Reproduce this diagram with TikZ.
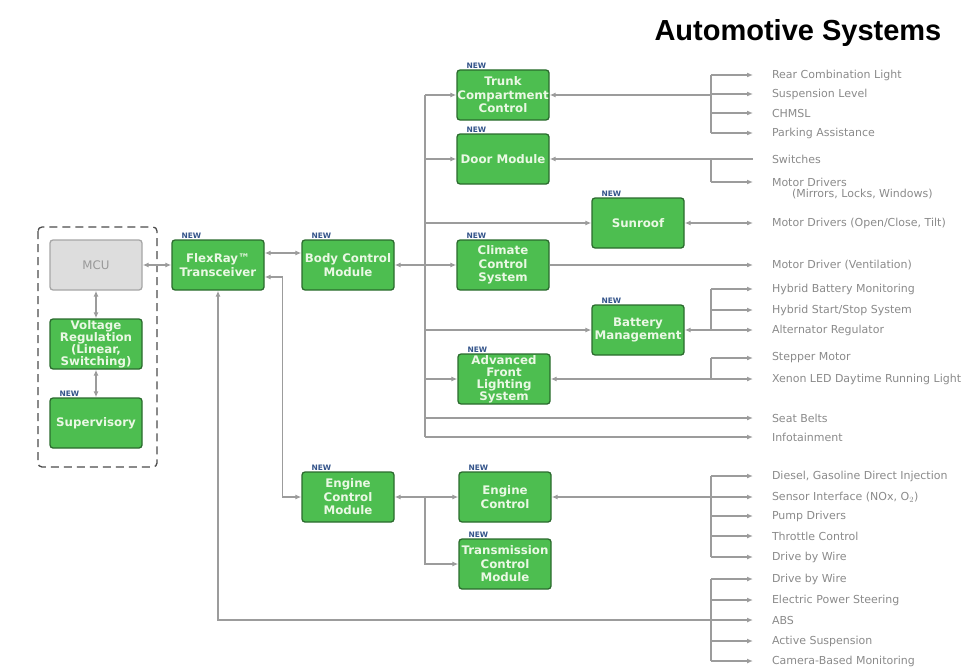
\documentclass[tikz,border=0pt]{standalone}
\usepackage{fontspec}
\setmainfont{DejaVu Sans}
\newfontfamily\titlefont{Liberation Sans}
\usetikzlibrary{arrows.meta}
\definecolor{boxgreen}{HTML}{4DBE50}
\definecolor{boxedge}{HTML}{2B6B2E}
\definecolor{boxtext}{HTML}{EAF8E4}
\definecolor{wiregray}{HTML}{9C9C9C}
\definecolor{labelgray}{HTML}{8A8A8A}
\definecolor{newblue}{HTML}{34548A}
\definecolor{mcugray}{HTML}{DDDDDD}

\begin{document}
\begin{tikzpicture}[x=1pt,y=-1pt,
  gbox/.style={draw=boxedge,line width=1.3pt,fill=boxgreen,rounded corners=3pt,
    minimum width=92pt,minimum height=50pt,inner sep=0pt,align=center,
    text=boxtext,font=\fontsize{11.8}{13.5}\selectfont\bfseries},
  mcubox/.style={gbox,draw=gray!70,fill=mcugray,text=gray!80,font=\fontsize{11.8}{13}\selectfont},
  newtag/.style={font=\fontsize{7.5}{8}\selectfont\bfseries,text=newblue,inner sep=0pt,anchor=south west},
  outtxt/.style={font=\fontsize{11}{12}\selectfont,text=labelgray,inner sep=0pt,outer xsep=19pt,anchor=west},
  wire/.style={draw=wiregray,line width=1.4pt},
  >={Latex[length=6pt,width=5pt]}]
\useasboundingbox (0,0) rectangle (977,669);

\node[anchor=base west,font=\fontsize{29}{30}\titlefont\bfseries] (title) at (651,41) {Automotive Systems};

% controller group
\draw[dashed,dash pattern=on 8pt off 5pt,line width=1.3pt,draw=gray!60!black,rounded corners=4pt] (38,227) rectangle (157,467);
\node[mcubox] (mcu) at (96,265) {MCU};
\node[gbox,font=\fontsize{11.8}{12}\selectfont\bfseries] (volt) at (96,344) {Voltage\\Regulation\\(Linear,\\Switching)};
\node[gbox] (super) at (96,423) {Supervisory};

\node[gbox] (flex) at (218,265) {FlexRay™\\Transceiver};
\node[gbox] (bcm) at (348,265) {Body Control\\Module};

% body modules
\node[gbox] (trunk) at (503,95) {Trunk\\Compartment\\Control};
\node[gbox] (door) at (503,159) {Door Module};
\node[gbox] (sunroof) at (638,223) {Sunroof};
\node[gbox] (climate) at (503,265) {Climate\\Control\\System};
\node[gbox] (battery) at (638,330) {Battery\\Management};
\node[gbox,font=\fontsize{11.8}{12}\selectfont\bfseries] (afls) at (504,379) {Advanced\\Front\\Lighting\\System};

% powertrain
\node[gbox] (ecm) at (348,497) {Engine\\Control\\Module};
\node[gbox] (engine) at (505,497) {Engine\\Control};
\node[gbox] (tcm) at (505,564) {Transmission\\Control\\Module};

\node[newtag] (new1) at ([xshift=10pt,yshift=1pt]super.north west) {NEW};
\node[newtag] (new2) at ([xshift=10pt,yshift=1pt]flex.north west) {NEW};
\node[newtag] (new3) at ([xshift=10pt,yshift=1pt]bcm.north west) {NEW};
\node[newtag] (new4) at ([xshift=10pt,yshift=1pt]trunk.north west) {NEW};
\node[newtag] (new5) at ([xshift=10pt,yshift=1pt]door.north west) {NEW};
\node[newtag] (new6) at ([xshift=10pt,yshift=1pt]sunroof.north west) {NEW};
\node[newtag] (new7) at ([xshift=10pt,yshift=1pt]climate.north west) {NEW};
\node[newtag] (new8) at ([xshift=10pt,yshift=1pt]battery.north west) {NEW};
\node[newtag] (new9) at ([xshift=10pt,yshift=1pt]afls.north west) {NEW};
\node[newtag] (new10) at ([xshift=10pt,yshift=1pt]ecm.north west) {NEW};
\node[newtag] (new11) at ([xshift=10pt,yshift=1pt]engine.north west) {NEW};
\node[newtag] (new12) at ([xshift=10pt,yshift=1pt]tcm.north west) {NEW};

% outputs
\node[outtxt] (rcl) at (753,75) {Rear Combination Light};
\node[outtxt] (susp) at (753,94) {Suspension Level};
\node[outtxt] (chmsl) at (753,113) {CHMSL};
\node[outtxt] (park) at (753,133) {Parking Assistance};
\node[outtxt] (switch) at (753,159) {Switches};
\node[outtxt] (mdrv) at (753,182) {Motor Drivers};
\node[outtxt] (mdrvb) at (773,194) {(Mirrors, Locks, Windows)};
\node[outtxt] (tilt) at (753,223) {Motor Drivers (Open/Close, Tilt)};
\node[outtxt] (vent) at (753,265) {Motor Driver (Ventilation)};
\node[outtxt] (hbm) at (753,289) {Hybrid Battery Monitoring};
\node[outtxt] (hss) at (753,310) {Hybrid Start/Stop System};
\node[outtxt] (alt) at (753,330) {Alternator Regulator};
\node[outtxt] (step) at (753,358) {Stepper Motor};
\node[outtxt] (xenon) at (753,379) {Xenon LED Daytime Running Light};
\node[outtxt] (belts) at (753,418) {Seat Belts};
\node[outtxt] (info) at (753,437) {Infotainment};
\node[outtxt] (diesel) at (753,476) {Diesel, Gasoline Direct Injection};
\node[outtxt] (sensor) at (753,497) {Sensor Interface (NOx, O$_2$)};
\node[outtxt] (pump) at (753,516) {Pump Drivers};
\node[outtxt] (throttle) at (753,536) {Throttle Control};
\node[outtxt] (dbwa) at (753,557) {Drive by Wire};
\node[outtxt] (dbwb) at (753,579) {Drive by Wire};
\node[outtxt] (eps) at (753,600) {Electric Power Steering};
\node[outtxt] (abs) at (753,620) {ABS};
\node[outtxt] (susa) at (753,641) {Active Suspension};
\node[outtxt] (cam) at (753,661) {Camera-Based Monitoring};

\coordinate (bus) at (425,0);
\coordinate (spine) at (711,0);

% left links
\draw[wire,<->] (mcu.east) -- (flex.west);
\draw[wire,<->] (mcu.south) -- (volt.north);
\draw[wire,<->] (volt.south) -- (super.north);
\draw[wire,<->] ([yshift=12pt]flex.east) -- ([yshift=12pt]bcm.west);
\draw[wire,<->] ([yshift=-12pt]flex.east) -- ++(18,0) |- (ecm.west);
\draw[wire,<-] (flex.south) |- (spine |- abs);

% body bus
\draw[wire] (bus |- trunk) -- (bus |- info);
\draw[wire,->] (bus |- trunk) -- (trunk.west);
\draw[wire,->] (bus |- door) -- (door.west);
\draw[wire,->] (bus |- sunroof) -- (sunroof.west);
\draw[wire,<->] (bcm.east) -- (climate.west);
\draw[wire,->] (bus |- battery) -- (battery.west);
\draw[wire,->] (bus |- afls) -- (afls.west);
\draw[wire,->] (bus |- belts) -- (belts.west);
\draw[wire,->] (bus |- info) -- (info.west);

% body outputs
\draw[wire,<-] (trunk.east) -- (spine |- trunk);
\draw[wire] (spine |- rcl) -- (spine |- park);
\draw[wire,->] (spine |- rcl) -- (rcl.west);
\draw[wire,->] (spine |- susp) -- (susp.west);
\draw[wire,->] (spine |- chmsl) -- (chmsl.west);
\draw[wire,->] (spine |- park) -- (park.west);
\draw[wire,<-] (door.east) -- (switch.west);
\draw[wire] (spine |- switch) -- (spine |- mdrv);
\draw[wire,->] (spine |- mdrv) -- (mdrv.west);
\draw[wire,<->] (sunroof.east) -- (tilt.west);
\draw[wire,->] (climate.east) -- (vent.west);
\draw[wire,<-] (battery.east) -- (spine |- battery);
\draw[wire] (spine |- hbm) -- (spine |- alt);
\draw[wire,->] (spine |- hbm) -- (hbm.west);
\draw[wire,->] (spine |- hss) -- (hss.west);
\draw[wire,->] (spine |- alt) -- (alt.west);
\draw[wire,<-] (afls.east) -- (spine |- afls);
\draw[wire] (spine |- step) -- (spine |- xenon);
\draw[wire,->] (spine |- step) -- (step.west);
\draw[wire,->] (spine |- xenon) -- (xenon.west);

% powertrain links
\draw[wire,<->] (ecm.east) -- (engine.west);
\draw[wire,->] (bus |- ecm) |- (tcm.west);
\draw[wire,<-] (engine.east) -- (spine |- engine);
\draw[wire] (spine |- diesel) -- (spine |- dbwa);
\draw[wire,->] (spine |- diesel) -- (diesel.west);
\draw[wire,->] (spine |- sensor) -- (sensor.west);
\draw[wire,->] (spine |- pump) -- (pump.west);
\draw[wire,->] (spine |- throttle) -- (throttle.west);
\draw[wire,->] (spine |- dbwa) -- (dbwa.west);
\draw[wire] (spine |- dbwb) -- (spine |- cam);
\draw[wire,->] (spine |- dbwb) -- (dbwb.west);
\draw[wire,->] (spine |- eps) -- (eps.west);
\draw[wire,->] (spine |- abs) -- (abs.west);
\draw[wire,->] (spine |- susa) -- (susa.west);
\draw[wire,->] (spine |- cam) -- (cam.west);

\end{tikzpicture}
\end{document}
